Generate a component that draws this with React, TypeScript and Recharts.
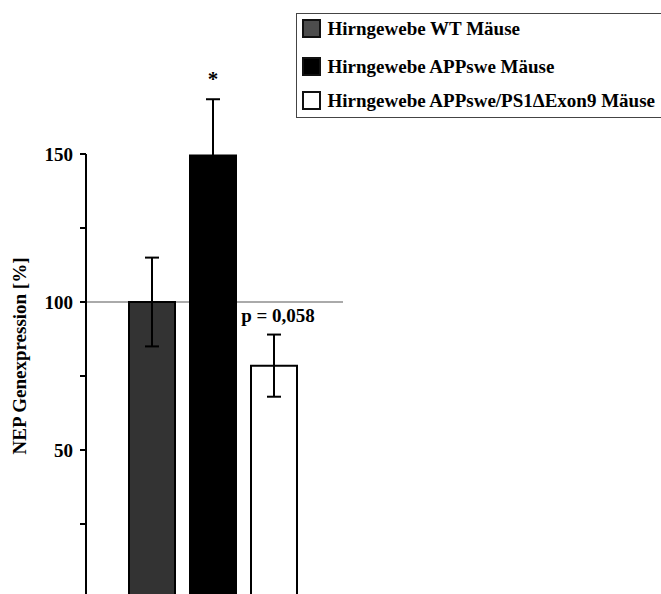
import React from 'react';
import {
  BarChart,
  Bar,
  XAxis,
  YAxis,
  ErrorBar,
  ReferenceLine,
  CartesianGrid,
  Legend,
  LabelList,
  Label,
} from 'recharts';

// Group names, shown in the legend
const groups = [
  'Hirngewebe WT Mäuse',
  'Hirngewebe APPswe Mäuse',
  'Hirngewebe APPswe/PS1\u0394Exon9 Mäuse',
];
const seriesKeys = ['wt', 'appswe', 'ps1'];
// NEP expression relative to wild type, in percent
const means = [100, 149.5, 78.5];
const errors = [15, 19, 10.5];
// Significance notes printed above the error bars
const annotations = ['', '*', 'p = 0,058'];
const category = 'Hirngewebe';
const yTicks = [0, 25, 50, 75, 100, 125, 150];
const labeledTicks = [50, 100, 150];
const axisTop = 150;
const domainTop = 180;
const baselineValue = 100;
const yTitle = 'NEP Genexpression [%]';

const fills = ['#333333', '#000000', '#ffffff'];
const legendFills = ['#4d4d4d', '#000000', '#ffffff'];
const FONT = '"Liberation Serif", "Times New Roman", serif';
const FS = 19;

const row: Record<string, number | string> = { name: category };
seriesKeys.forEach((k, i) => {
  row[k] = means[i];
  row[k + 'Err'] = errors[i];
});
const data = [row];

const YTick = (props: any) => {
  const { x, y, payload } = props;
  if (!labeledTicks.includes(payload.value)) return <g />;
  return (
    <text
      x={x}
      y={y}
      dy="0.35em"
      textAnchor="end"
      fontFamily={FONT}
      fontWeight="bold"
      fontSize={FS}
      fill="#000"
    >
      {payload.value}
    </text>
  );
};

const YTitle = (props: any) => {
  const vb = props.viewBox || {};
  const cx = 26;
  const cy = vb.y + vb.height - 242;
  return (
    <text
      x={cx}
      y={cy}
      transform={`rotate(-90, ${cx}, ${cy})`}
      textAnchor="middle"
      fontFamily={FONT}
      fontWeight="bold"
      fontSize={FS}
      fill="#000"
    >
      {yTitle}
    </text>
  );
};

const makeNote = (i: number) => (props: any) => {
  const { x, y, width, height, value } = props;
  const text = annotations[i];
  if (!text || !value) return null;
  const pxPerUnit = height / value;
  const errTop = y - errors[i] * pxPerUnit;
  return (
    <text
      x={x + width / 2 + (i === 2 ? 4 : 0)}
      y={errTop - 13}
      textAnchor="middle"
      fontFamily={FONT}
      fontWeight="bold"
      fontSize={i === 1 ? 21 : FS}
      fill="#000"
    >
      {text}
    </text>
  );
};

const rowTops = [4.5, 42.5, 76.5];

const LegendBox = () => (
  <div
    style={{
      border: '1.5px solid #444',
      width: 368,
      height: 105,
      boxSizing: 'border-box',
      position: 'relative',
      background: '#fff',
    }}
  >
    {groups.map((g, i) => (
      <div
        key={g}
        style={{
          position: 'absolute',
          left: 4.5,
          top: rowTops[i],
          height: 20,
          display: 'flex',
          alignItems: 'center',
        }}
      >
        <span
          style={{
            display: 'inline-block',
            width: 19,
            height: 19,
            boxSizing: 'border-box',
            border: '2px solid #111',
            background: legendFills[i],
            marginRight: 7,
          }}
        />
        <span
          style={{
            fontFamily: FONT,
            fontWeight: 'bold',
            fontSize: FS,
            whiteSpace: 'nowrap',
            color: '#000',
          }}
        >
          {g}
        </span>
      </div>
    ))}
  </div>
);

export default function App() {
  return (
    <div
      style={{
        position: 'fixed',
        left: 0,
        top: 0,
        width: 661,
        height: 594,
        overflow: 'hidden',
        background: '#fff',
      }}
    >
      <BarChart
        width={661}
        height={600}
        data={data}
        margin={{ top: 65.2, right: 318, bottom: 2, left: 0 }}
        barGap={15}
      >
        {/* grey 100 % baseline, drawn behind the bars */}
        <CartesianGrid
          vertical={false}
          horizontalValues={[baselineValue]}
          stroke="#aaaaaa"
          strokeWidth={2}
        />
        <XAxis dataKey="name" hide padding={{ left: 0, right: 4 }} />
        <YAxis
          width={86}
          domain={[0, domainTop]}
          ticks={yTicks}
          interval={0}
          axisLine={false}
          tickLine={{ stroke: '#000', strokeWidth: 2 }}
          tickSize={6}
          tickMargin={7}
          tick={<YTick />}
        >
          <Label content={<YTitle />} />
        </YAxis>
        {/* y axis line, ending at the 150 tick */}
        <ReferenceLine
          segment={[
            { x: category, y: 0 },
            { x: category, y: axisTop },
          ]}
          position="start"
          ifOverflow="visible"
          stroke="#000"
          strokeWidth={2}
        />
        {seriesKeys.map((k, i) => (
          <Bar
            key={k}
            dataKey={k}
            name={groups[i]}
            fill={fills[i]}
            stroke="#000"
            strokeWidth={2}
            barSize={46}
            isAnimationActive={false}
          >
            <ErrorBar
              dataKey={k + 'Err'}
              width={7}
              stroke="#000"
              strokeWidth={2}
              direction="y"
            />
            <LabelList dataKey={k} content={makeNote(i)} />
          </Bar>
        ))}
        <Legend
          layout="horizontal"
          verticalAlign="middle"
          align="center"
          content={<LegendBox />}
          wrapperStyle={{ left: 296, top: 13, width: 368, height: 105 }}
        />
      </BarChart>
    </div>
  );
}
